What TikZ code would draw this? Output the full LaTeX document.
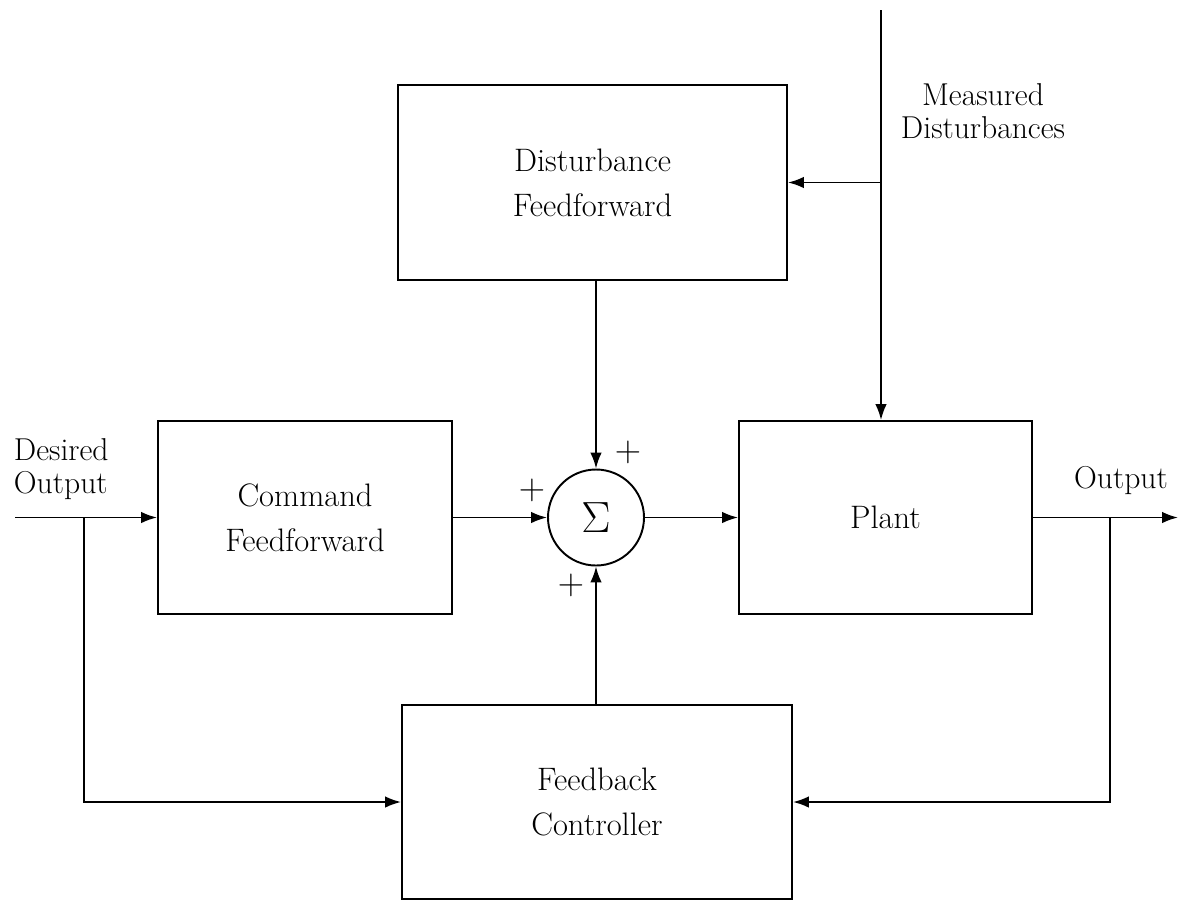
\documentclass[tikz,border=0pt]{standalone}
\usetikzlibrary{arrows.meta}
\begin{document}
\begin{tikzpicture}[x=0.02cm,y=-0.02cm,
  line width=1.1pt,
  arr/.style={-{Latex[length=9pt,width=6.5pt]}},
  blk/.style={draw,rectangle,align=center,inner sep=0pt,font=\fontsize{18.5}{25.5}\selectfont},
  lbl/.style={inner sep=0pt,font=\fontsize{18}{19}\selectfont},
  pls/.style={inner sep=0pt,font=\fontsize{22}{22}\selectfont}]
\useasboundingbox (0,0) rectangle (1183,900);
% blocks
\node[blk,minimum width=389*0.02cm,minimum height=195*0.02cm] (df) at (592.5,182.5) {Disturbance\\Feedforward};
\node[blk,minimum width=294*0.02cm,minimum height=193*0.02cm] (cf) at (305,517.5) {Command\\Feedforward};
\node[blk,minimum width=293*0.02cm,minimum height=193*0.02cm] (plant) at (885.5,517.5) {Plant};
\node[blk,minimum width=390*0.02cm,minimum height=194*0.02cm] (fc) at (597,802) {Feedback\\Controller};
\node[draw,circle,minimum size=96*0.02cm,inner sep=0pt,font=\fontsize{25}{25}\selectfont] (sum) at (596,517.5) {$\Sigma$};
% coordinates
\coordinate (in) at (15,517.5);
\coordinate (b1) at (84,517.5);
\coordinate (out) at (1178,517.5);
\coordinate (b2) at (1110,517.5);
\coordinate (top) at (881,10);
\coordinate (b3) at (881,182.5);
% connectors
\draw[arr] (in) -- (cf.west);
\draw[arr] (b1) |- (fc.west);
\draw[arr] (cf.east) -- (sum.west);
\draw[arr] (sum.east) -- (plant.west);
\draw[arr] (plant.east) -- (out);
\draw[arr] (b2) |- (fc.east);
\draw[arr] (sum.north |- df.south) -- (sum.north);
\draw[arr] (sum.south |- fc.north) -- (sum.south);
\draw[arr] (top) -- (top |- plant.north);
\draw[arr] (b3) -- (df.east);
% labels
\node[lbl,align=left,anchor=west] (lin) at (13,469) {Desired\\Output};
\node[lbl] (lout) at (1121,481) {Output};
\node[lbl,align=center] (lmd) at (983,111) {Measured\\Disturbances};
\node[pls] (p1) at (628,452) {$+$};
\node[pls] (p2) at (532,490) {$+$};
\node[pls] (p3) at (571,585) {$+$};
\end{tikzpicture}
\end{document}
